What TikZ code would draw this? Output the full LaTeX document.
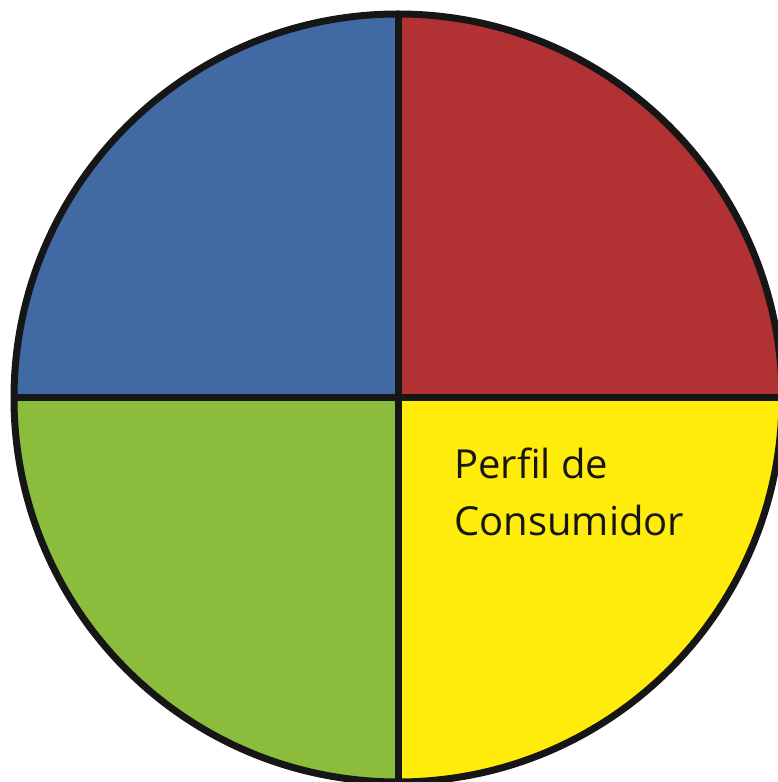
\documentclass[tikz,border=0pt]{standalone}
\usepackage{fontspec}
\setmainfont{Open Sans}
\definecolor{qblue}{RGB}{65,106,165}
\definecolor{qred}{RGB}{178,50,52}
\definecolor{qgreen}{RGB}{140,188,60}
\definecolor{qyellow}{RGB}{255,236,10}
\definecolor{qline}{RGB}{22,22,22}
\tikzset{
  border/.style={draw=qline, line width=7pt},
  label/.style={inner sep=0pt, anchor=base west, text=qline, font=\fontsize{40}{57}\selectfont}
}
\begin{document}
\begin{tikzpicture}[x=1pt,y=1pt]
\useasboundingbox (0,0) rectangle (778,782);
\clip (0,0) rectangle (778,782);
\coordinate (c) at (398,384);
\def\R{384}
\fill[qred] (c) -- ++(0,\R) arc[start angle=90,end angle=0,radius=\R] -- cycle;
\fill[qblue] (c) -- ++(0,\R) arc[start angle=90,end angle=180,radius=\R] -- cycle;
\fill[qgreen] (c) -- ++(-\R,0) arc[start angle=180,end angle=270,radius=\R] -- cycle;
\fill[qyellow] (c) -- ++(0,-\R) arc[start angle=270,end angle=360,radius=\R] -- cycle;
\draw[border] (c) circle[radius=\R];
\draw[border] (398,0) -- (398,768);
\draw[border] (14,384) -- (782,384);
\node[label] (l1) at (454,303) {Perfil de};
\node[label] (l2) at (454,246) {Consumidor};
\end{tikzpicture}
\end{document}
